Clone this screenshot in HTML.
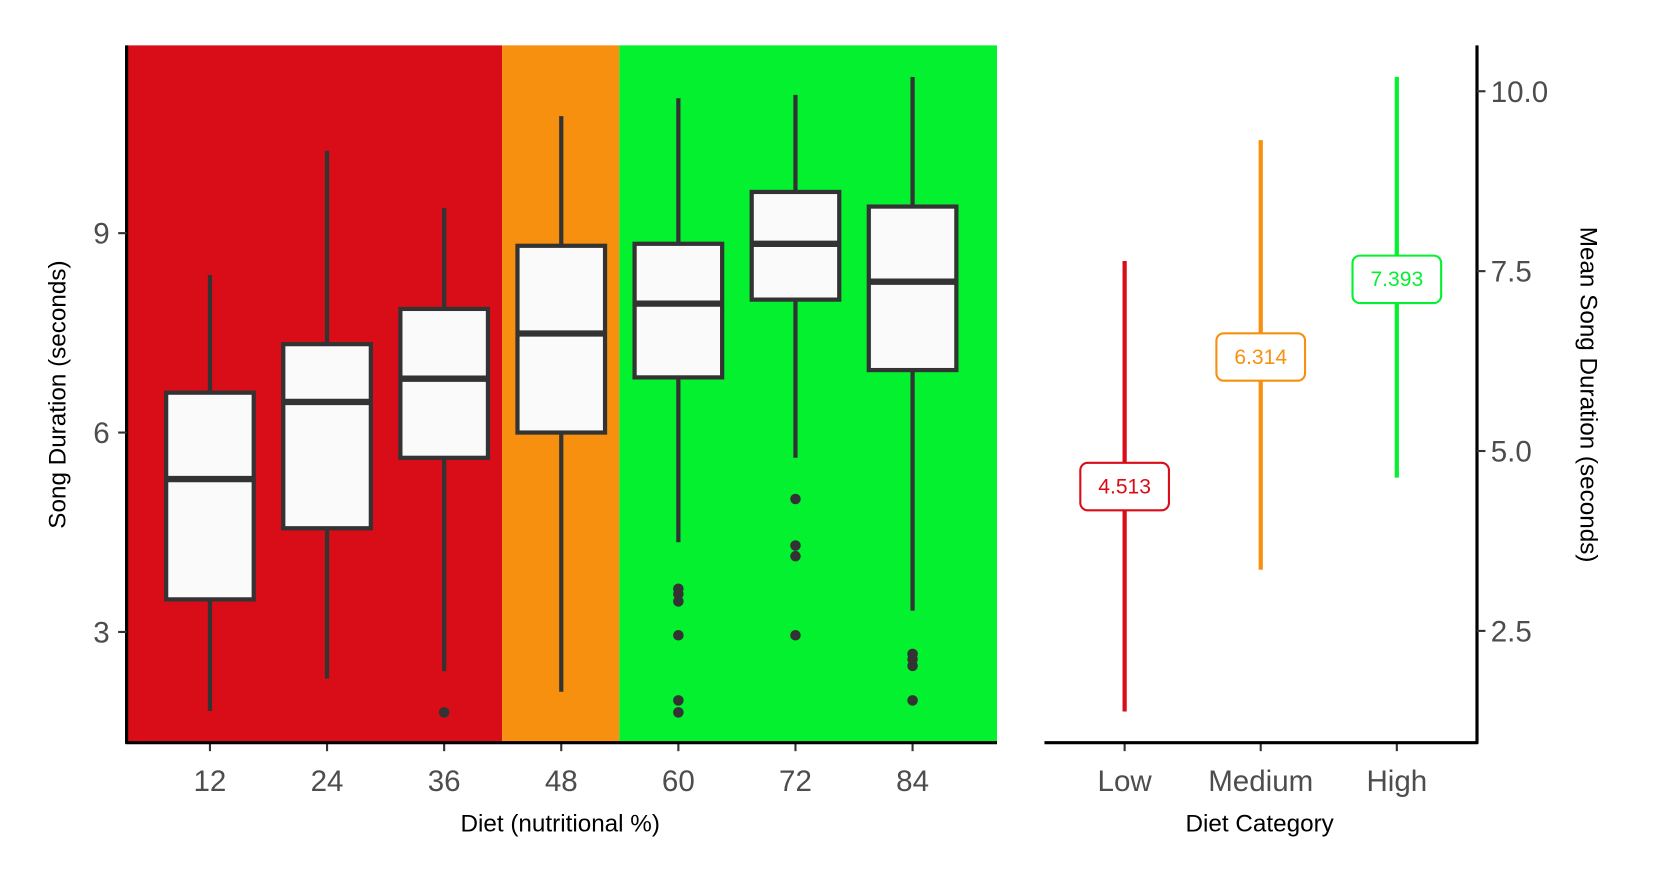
<!DOCTYPE html>
<html><head><meta charset="utf-8"><style>
body{margin:0;background:#fff}
svg text{font-family:"Liberation Sans",sans-serif}
</style></head><body>
<svg id="c" width="1653" height="885" xmlns="http://www.w3.org/2000/svg"><g id="root" transform="scale(1.055)"></g></svg>
<script>
const categories=[12,24,36,48,60,72,84];
const whiskerHigh=[8.37,10.24,9.38,10.76,11.03,11.08,11.35];
const q3=[6.60,7.33,7.86,8.81,8.84,9.62,9.40];
const medians=[5.30,6.46,6.81,7.49,7.94,8.84,8.27];
const q1=[3.49,4.56,5.62,6.0,6.83,8.0,6.94];
const whiskerLow=[1.81,2.30,2.41,2.10,4.35,5.62,3.32];
const outliers=[[],[],[1.79],[],[3.65,3.57,3.46,2.95,1.97,1.79],[5.0,4.30,4.14,2.95],[2.67,2.59,2.49,1.97]];
const leftTicks=[3,6,9];
const dietCats=["Low","Medium","High"];
const meanVals=[4.513,6.314,7.393];
const rangeHigh=[7.64,9.32,10.2];
const rangeLow=[1.38,3.35,4.63];
const rightTicks=[2.5,5.0,7.5,10.0];
const catColors=["#d90d17","#f7900f","#04f12f"];

const svg=document.getElementById('root');
const NS='http://www.w3.org/2000/svg';
function mk(t,a,p){const e=document.createElementNS(NS,t);for(const k in a)e.setAttribute(k,a[k]);(p||svg).appendChild(e);return e;}
const yL=v=>788-63*v;
const xL=i=>199+111*i;
const yR=v=>768.5-68.2*v;
const xR=i=>1066+129*i;

let g=mk('g',{});


let r=mk('rect',{x:120,y:43,width:356,height:661,fill:'#d90d17'},g);

r=mk('rect',{x:476,y:43,width:111,height:661,fill:'#f7900f'},g);

r=mk('rect',{x:587,y:43,width:358,height:661,fill:'#04f12f'},g);


categories.forEach((c,i)=>{
  const bg=mk('g',{});
  
  
  const x=xL(i),w=83;
  mk('line',{x1:x,x2:x,y1:yL(whiskerHigh[i]),y2:yL(q3[i]),stroke:'#333','stroke-width':4},bg);
  mk('line',{x1:x,x2:x,y1:yL(q1[i]),y2:yL(whiskerLow[i]),stroke:'#333','stroke-width':4},bg);
  mk('rect',{x:x-w/2,y:yL(q3[i]),width:w,height:yL(q1[i])-yL(q3[i]),fill:'#fafafa',stroke:'#333','stroke-width':4},bg);
  mk('line',{x1:x-w/2,x2:x+w/2,y1:yL(medians[i]),y2:yL(medians[i]),stroke:'#333','stroke-width':6},bg);
  outliers[i].forEach(o=>{const d=mk('circle',{cx:x,cy:yL(o),r:5,fill:'#333'},bg);
    });
  const t=mk('text',{x:x,y:750,'font-size':28,fill:'#4d4d4d','text-anchor':'middle'});
  t.textContent=c;
  
  mk('line',{x1:x,x2:x,y1:704,y2:712,stroke:'#333','stroke-width':2});
});
mk('line',{x1:120,x2:120,y1:43,y2:705,stroke:'#000','stroke-width':3});
mk('line',{x1:119,x2:945,y1:704,y2:704,stroke:'#000','stroke-width':3});
leftTicks.forEach(v=>{
  mk('line',{x1:112,x2:120,y1:yL(v),y2:yL(v),stroke:'#333','stroke-width':2});
  const t=mk('text',{x:104,y:yL(v)+10,'font-size':28,fill:'#4d4d4d','text-anchor':'end'});
  t.textContent=v;
});
let t=mk('text',{x:531,y:788,'font-size':23,fill:'#000','text-anchor':'middle'});
t.textContent='Diet (nutritional %)';
t=mk('text',{x:0,y:0,'font-size':23,fill:'#000','text-anchor':'middle',transform:'translate(62,374) rotate(-90)'});
t.textContent='Song Duration (seconds)';

dietCats.forEach((c,i)=>{
  const x=xR(i),col=catColors[i];
  const l=mk('line',{x1:x,x2:x,y1:yR(rangeHigh[i]),y2:yR(rangeLow[i]),stroke:col,'stroke-width':4});
  
  const y=yR(meanVals[i]);
  const b=mk('rect',{x:x-42,y:y-22,width:84,height:45,rx:7,fill:'#fff',stroke:col,'stroke-width':2});
  
  const lt=mk('text',{x:x,y:y+7,'font-size':20,fill:col,'text-anchor':'middle'});
  lt.textContent=meanVals[i].toFixed(3);
  mk('line',{x1:x,x2:x,y1:704,y2:712,stroke:'#333','stroke-width':2});
  const tt=mk('text',{x:x,y:750,'font-size':28,fill:'#4d4d4d','text-anchor':'middle'});
  tt.textContent=c;
});
mk('line',{x1:1400,x2:1400,y1:43,y2:705,stroke:'#000','stroke-width':3});
mk('line',{x1:990,x2:1401,y1:704,y2:704,stroke:'#000','stroke-width':3});
rightTicks.forEach(v=>{
  mk('line',{x1:1400,x2:1408,y1:yR(v),y2:yR(v),stroke:'#333','stroke-width':2});
  const tt=mk('text',{x:1413,y:yR(v)+10,'font-size':28,fill:'#4d4d4d'});
  tt.textContent=v.toFixed(1);
});
t=mk('text',{x:1194,y:788,'font-size':23,fill:'#000','text-anchor':'middle'});
t.textContent='Diet Category';
t=mk('text',{x:0,y:0,'font-size':23,fill:'#000','text-anchor':'middle',transform:'translate(1498,374) rotate(90)'});
t.textContent='Mean Song Duration (seconds)';
</script>
</body></html>
